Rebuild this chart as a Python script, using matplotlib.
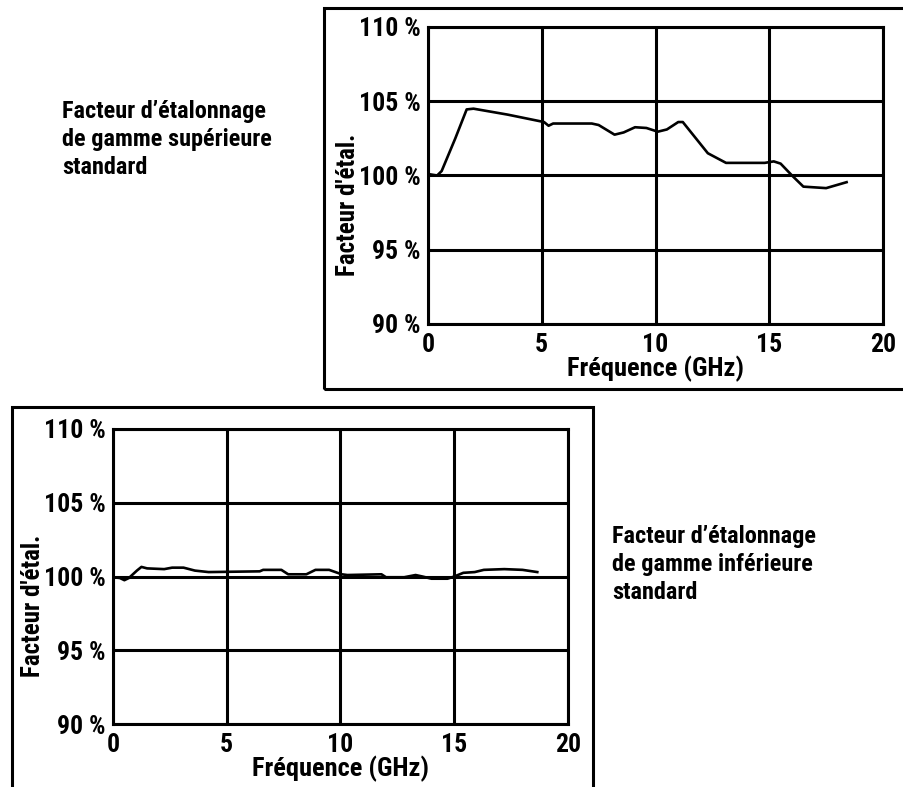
import matplotlib
matplotlib.use('Agg')
import matplotlib.pyplot as plt
from matplotlib import font_manager as fm
from matplotlib.patches import Rectangle

# data (GHz, %)
freq_sup = [0.0, 0.4, 0.6, 1.2, 1.7, 2.0, 3.5, 5.1, 5.3, 5.5, 7.2, 7.5, 8.2, 8.6,
            9.1, 9.6, 10.1, 10.5, 11.0, 11.2, 12.3, 13.1, 14.8, 15.2, 15.5, 16.0,
            16.5, 17.5, 18.4]
fact_sup = [100.1, 100.0, 100.3, 102.5, 104.45, 104.5, 104.1, 103.6, 103.35, 103.5,
            103.5, 103.4, 102.75, 102.9, 103.25, 103.2, 102.95, 103.1, 103.6, 103.6,
            101.5, 100.85, 100.85, 100.95, 100.8, 100.0, 99.25, 99.15, 99.55]

freq_inf = [0.0, 0.3, 0.5, 0.7, 1.05, 1.25, 1.5, 2.25, 2.6, 3.1, 3.6, 4.2, 6.45, 6.6,
            7.4, 7.7, 8.5, 8.9, 9.5, 10.05, 10.3, 11.8, 12.0, 12.8, 13.3, 13.6, 14.0,
            14.7, 15.0, 15.4, 15.9, 16.3, 17.2, 18.0, 18.65]
fact_inf = [99.95, 99.9, 99.75, 99.9, 100.4, 100.65, 100.55, 100.5, 100.6, 100.6,
            100.4, 100.3, 100.35, 100.45, 100.45, 100.15, 100.15, 100.45, 100.45,
            100.15, 100.1, 100.15, 99.95, 99.95, 100.1, 100.0, 99.85, 99.85, 100.0,
            100.25, 100.3, 100.45, 100.5, 100.45, 100.3]

yticks = [90, 95, 100, 105, 110]
ylabels = ['90 %', '95 %', '100 %', '105 %', '110 %']
xticks = [0, 5, 10, 15, 20]

legende_sup = ["Facteur d\u2019étalonnage", "de gamme supérieure", "standard"]
legende_inf = ["Facteur d\u2019étalonnage", "de gamme inférieure", "standard"]


# look for a narrow bold face, the original uses a condensed grotesque
def pick_font():
    entries = fm.fontManager.ttflist
    for pref in ['Liberation Sans Narrow', 'Arial Narrow', 'Roboto Condensed',
                 'Noto Sans Condensed', 'Open Sans Condensed', 'DejaVu Sans Condensed']:
        if any(e.name == pref for e in entries):
            return pref, 'normal', True
    for e in entries:
        if 'Narrow' in e.name or 'Condensed' in e.name:
            return e.name, 'normal', True
    for e in entries:
        if str(e.stretch) in ('condensed', 'semi-condensed', 'extra-condensed'):
            return e.name, e.stretch, True
    return 'Roboto', 'normal', False


fam, stretch, narrow = pick_font()
plt.rcParams['font.family'] = [fam, 'DejaVu Sans']
plt.rcParams['font.stretch'] = stretch
plt.rcParams['font.weight'] = 'bold'
k = 1.0 if narrow else 0.85

W, H = 904, 787
fig = plt.figure(figsize=(W / 100, H / 100), dpi=100)


def box(x0, y0, x1, y1):
    # frame in pixel coords (top-left origin)
    fig.patches.append(Rectangle((x0 / W, 1 - y1 / H), (x1 - x0) / W, (y1 - y0) / H,
                                 transform=fig.transFigure, fill=False,
                                 edgecolor='black', linewidth=2.2, clip_on=False))


def make_axes(x0, y0, x1, y1, xs, ys):
    ax = fig.add_axes([x0 / W, 1 - y1 / H, (x1 - x0) / W, (y1 - y0) / H])
    ax.plot(xs, ys, color='black', linewidth=1.9)
    ax.set_xlim(0, 20)
    ax.set_ylim(90, 110)
    ax.set_xticks(xticks)
    ax.set_xticklabels([str(v) for v in xticks])
    ax.set_yticks(yticks)
    ax.set_yticklabels(ylabels)
    ax.tick_params(length=0, labelsize=18.5 * k)
    ax.tick_params(axis='y', pad=5.5)
    ax.tick_params(axis='x', pad=6.5)
    ax.grid(True, color='black', linewidth=2.2)
    for s in ax.spines.values():
        s.set_linewidth(2.2)
    ax.set_xlabel('Fréquence (GHz)', fontsize=19 * k, fontweight='bold', va='center')
    ax.xaxis.set_label_coords(0.5, -45 / (y1 - y0))
    ax.set_ylabel("Facteur d'étal.", fontsize=18 * k, fontweight='bold', va='center')
    ax.yaxis.set_label_coords(-80 / (x1 - x0), 0.40)
    return ax


def legende(x, y, lines):
    # one text per line, baselines 28 px apart
    for i, s in enumerate(lines):
        fig.text(x / W, 1 - (y + 28 * i) / H, s, fontsize=17.5 * k,
                 fontweight='bold', va='baseline', ha='left')


box(324, 8, 910, 389)
box(12, 407, 593, 800)

make_axes(428, 27, 883, 324, freq_sup, fact_sup)
make_axes(113, 429, 568, 724, freq_inf, fact_inf)

legende(62, 118, legende_sup)
legende(612, 543, legende_inf)

fig.savefig('out.png', dpi=100)
